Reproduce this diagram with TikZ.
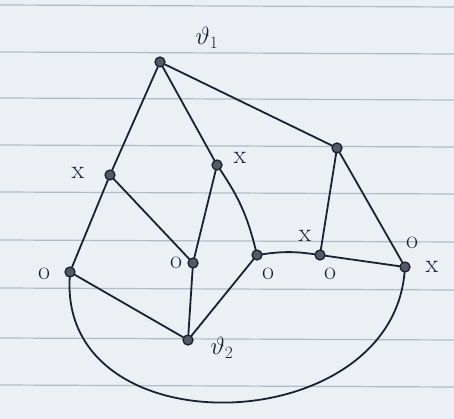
\documentclass[tikz,border=0pt]{standalone}
\usepackage{tikz}
\usepackage{amsmath}
\usetikzlibrary{positioning}
\definecolor{paper}{RGB}{236,239,243}
\definecolor{rule}{RGB}{178,187,200}
\definecolor{ink}{RGB}{28,33,50}

\begin{document}
\begin{tikzpicture}[
    x=1pt, y=-1pt,
    vertex/.style={circle, minimum size=10pt, inner sep=0pt, draw=ink, fill=ink!75, line width=1.3pt},
    edge/.style={draw=ink, line width=1.8pt, line cap=round},
    lbl/.style={text=ink, font=\fontsize{26}{28}\selectfont}
]

    % paper
    \useasboundingbox (0,0) rectangle (454,419);
    \fill[paper] (0,0) rectangle (454,419);
    \foreach \y in {5,52,98,145,192,240,288,338,385}
        \draw[rule, line width=1.2pt] (0,\y) -- (454,\y+2);

    % vertices
    \node[vertex] (v1) at (160,62) {};
    \node[vertex] (xa) at (110,175) {};
    \node[vertex] (xb) at (217,165) {};
    \node[vertex] (c)  at (337,148) {};
    \node[vertex] (oa) at (70,272) {};
    \node[vertex] (ob) at (193,263) {};
    \node[vertex] (oc) at (257,255) {};
    \node[vertex] (od) at (320,255) {};
    \node[vertex] (oe) at (405,267) {};
    \node[vertex] (v2) at (188,340) {};

    % labels
    \node[lbl] (l1) at (207,38) {$\vartheta_1$};
    \node[lbl] (l2) at (222,348) {$\vartheta_2$};
    \node[lbl] (lxa) at (78,173) {x};
    \node[lbl] (lxb) at (240,158) {x};
    \node[lbl] (loa) at (44,274) {o};
    \node[lbl] (lob) at (176,263) {o};
    \node[lbl] (loc) at (268,274) {o};
    \node[lbl] (lxd) at (305,236) {x};
    \node[lbl] (lod) at (330,274) {o};
    \node[lbl] (loe) at (412,243) {o};
    \node[lbl] (lxe) at (432,267) {x};

    % edges
    \draw[edge] (v1) -- (xa);
    \draw[edge] (v1) -- (xb);
    \draw[edge] (v1) -- (c);
    \draw[edge] (xa) -- (oa);
    \draw[edge] (xa) -- (ob);
    \draw[edge] (xb) -- (ob);
    \draw[edge] (xb) to[bend left=10] (oc);
    \draw[edge] (c) -- (od);
    \draw[edge] (c) -- (oe);
    \draw[edge] (oc) to[bend left=8] (od);
    \draw[edge] (od) -- (oe);
    \draw[edge] (oa) -- (v2);
    \draw[edge] (ob) -- (v2);
    \draw[edge] (oc) -- (v2);
    \draw[edge] (oa) .. controls (60,450) and (390,440) .. (oe);

\end{tikzpicture}
\end{document}
